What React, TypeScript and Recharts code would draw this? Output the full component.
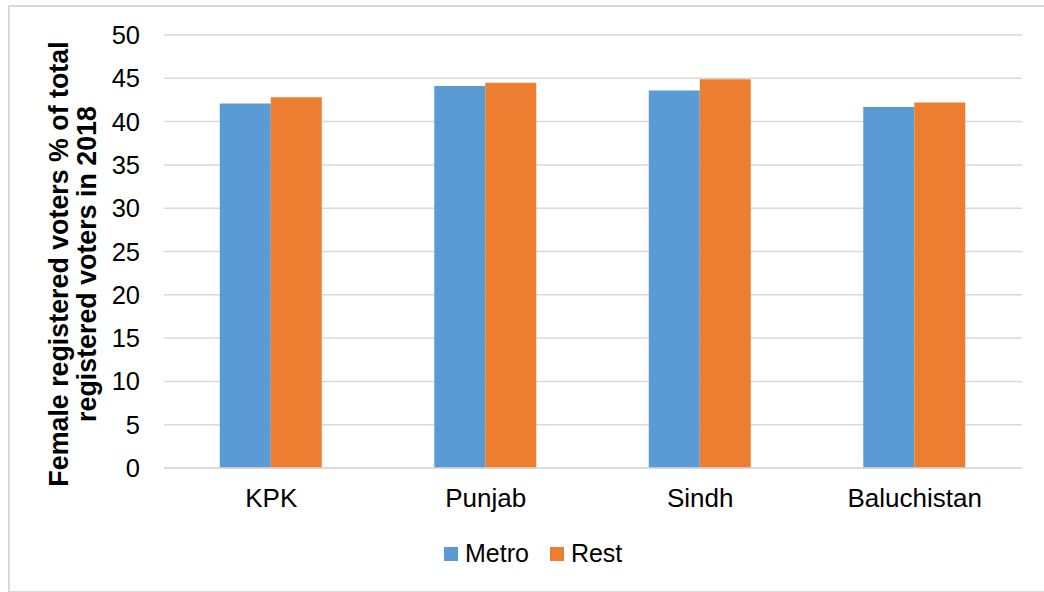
import React from "react";
import { BarChart, Bar, XAxis, YAxis, CartesianGrid, Legend } from "recharts";

const categories = ["KPK", "Punjab", "Sindh", "Baluchistan"];
const metroValues = [42.1, 44.1, 43.6, 41.7];
const restValues = [42.8, 44.5, 44.9, 42.2];
const yTicks = [0, 5, 10, 15, 20, 25, 30, 35, 40, 45, 50];
const seriesNames = ["Metro", "Rest"];
const seriesColors = ["#5B9BD5", "#ED7D31"];
const titleLines = ["Female registered voters % of total", "registered voters in 2018"];

const data = categories.map((c, i) => ({ name: c, Metro: metroValues[i], Rest: restValues[i] }));

const FONT = "'Liberation Sans', Arial, sans-serif";

const renderLegend = () => (
  <div style={{ display: "flex", alignItems: "center", fontFamily: FONT, fontSize: 25, lineHeight: "25px", color: "#000" }}>
    {seriesNames.map((n, i) => (
      <div key={n} style={{ display: "flex", alignItems: "center", marginRight: i === 0 ? 21 : 0 }}>
        <div style={{ width: 14, height: 14, background: seriesColors[i], marginRight: 7 }} />
        <span>{n}</span>
      </div>
    ))}
  </div>
);

const renderTitle = () => (
  <g>
    <text x={68} y={264} transform="rotate(-90, 68, 264)" textAnchor="middle" fontFamily={FONT} fontWeight="bold" fontSize={26.8} fill="#000">
      {titleLines[0]}
    </text>
    <text x={96} y={264} transform="rotate(-90, 96, 264)" textAnchor="middle" fontFamily={FONT} fontWeight="bold" fontSize={26.8} fill="#000">
      {titleLines[1]}
    </text>
  </g>
);

export default function App() {
  return (
    <div style={{ position: "absolute", left: 0, top: 0, width: 1044, height: 592, overflow: "hidden", background: "#fff" }}>
      <div style={{ position: "absolute", left: 8, top: 5, width: 1050, height: 584, border: "2px solid #d9d9d9" }} />
      <div style={{ position: "absolute", left: 0, top: 0 }}>
        <BarChart
          width={1044}
          height={592}
          data={data}
          margin={{ top: 35, right: 22, left: 0, bottom: 10 }}
          barCategoryGap="26%"
          barGap={0}
        >
          <CartesianGrid vertical={false} stroke="#d9d9d9" strokeWidth={1.5} />
          <XAxis
            dataKey="name"
            height={64}
            tickLine={false}
            tickSize={0}
            tickMargin={21}
            axisLine={{ stroke: "#d9d9d9", strokeWidth: 1.5 }}
            tick={{ fill: "#000", fontSize: 26, fontFamily: FONT }}
            interval={0}
          />
          <YAxis
            width={164}
            domain={[0, 50]}
            ticks={yTicks}
            axisLine={false}
            tickLine={false}
            tickSize={0}
            tickMargin={24}
            tick={{ fill: "#000", fontSize: 25.5, fontFamily: FONT }}
            label={{ content: renderTitle }}
          />
          <Legend
            verticalAlign="bottom"
            height={50}
            content={renderLegend}
            wrapperStyle={{ left: 444, top: 541, width: "auto", bottom: "auto" }}
          />
          <Bar dataKey="Metro" fill={seriesColors[0]} isAnimationActive={false} />
          <Bar dataKey="Rest" fill={seriesColors[1]} isAnimationActive={false} />
        </BarChart>
      </div>
    </div>
  );
}
